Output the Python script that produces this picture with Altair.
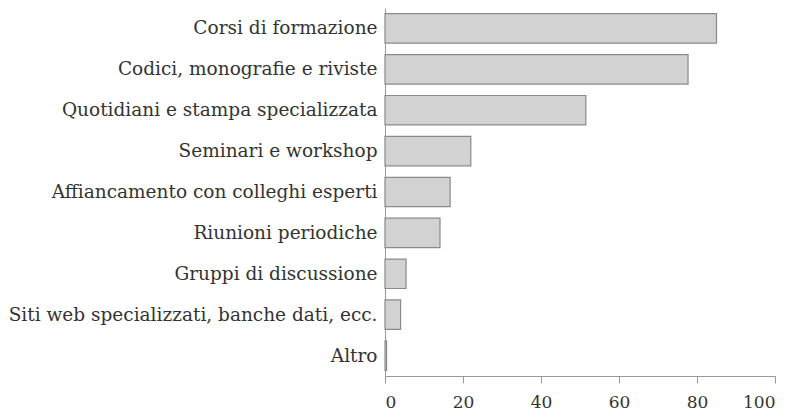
import altair as alt
import pandas as pd

categories = [
    "Corsi di formazione",
    "Codici, monografie e riviste",
    "Quotidiani e stampa specializzata",
    "Seminari e workshop",
    "Affiancamento con colleghi esperti",
    "Riunioni periodiche",
    "Gruppi di discussione",
    "Siti web specializzati, banche dati, ecc.",
    "Altro",
]
values = [85.0, 77.7, 51.5, 22.0, 16.7, 14.1, 5.4, 4.0, 0.4]
x_ticks = [0, 20, 40, 60, 80, 100]

df = pd.DataFrame({"cat": categories, "val": values})

FONT = "DejaVu Serif"

chart = (
    alt.Chart(df)
    .mark_bar(fill="#d2d2d2", stroke="#8a8a8a", strokeWidth=1.2)
    .encode(
        x=alt.X(
            "val:Q",
            scale=alt.Scale(domain=[0, 100], nice=False),
            axis=alt.Axis(
                values=x_ticks,
                title=None,
                grid=False,
                domainColor="#999999",
                tickColor="#999999",
                tickSize=7,
                labelFont=FONT,
                labelFontSize=17,
                labelColor="#333333",
                labelPadding=11,
            ),
        ),
        y=alt.Y(
            "cat:N",
            sort=categories,
            scale=alt.Scale(paddingInner=0.28, paddingOuter=0.14),
            axis=alt.Axis(
                title=None,
                ticks=False,
                domainColor="#999999",
                labelFont=FONT,
                labelFontSize=18.5,
                labelColor="#333333",
                labelPadding=8,
                labelLimit=500,
            ),
        ),
    )
    .properties(width=390, height=368, padding={"left": 0, "top": 0, "right": 12, "bottom": 0})
    .configure_view(stroke=None)
)

chart.save("out.html", embed_options={"renderer": "svg", "actions": False})
